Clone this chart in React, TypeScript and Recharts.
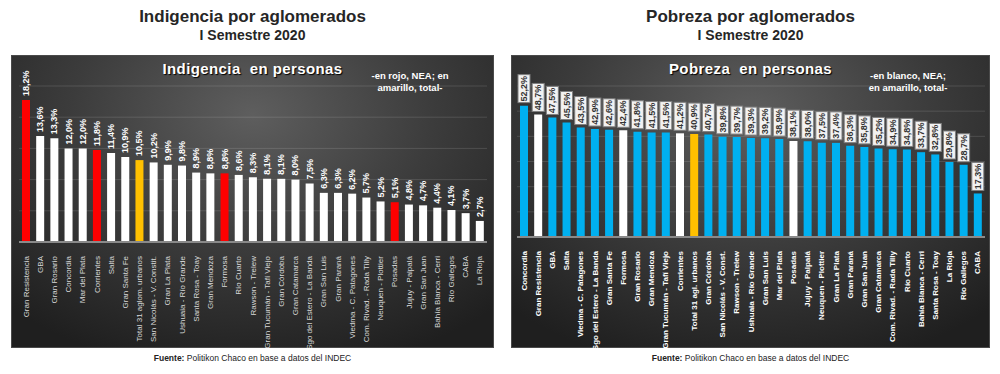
import { BarChart, Bar, XAxis, YAxis, CartesianGrid, Cell, LabelList } from "recharts";

const FONT = "'Liberation Sans', Arial, sans-serif";

// Indigencia
const indCities = [
    "Gran Resistencia", "GBA", "Gran Rosario", "Concordia", "Mar del Plata", "Corrientes", "Salta",
    "Gran Santa Fe", "Total 31 aglom. urbanos", "San Nicolás - V. Constit.", "Gran La Plata",
    "Ushuaia - Río Grande", "Santa Rosa - Toay", "Gran Mendoza", "Formosa", "Río Cuarto",
    "Rawson - Trelew", "Gran Tucumán - Tafí Viejo", "Gran Córdoba", "Gran Catamarca",
    "Sgo del Estero - La Banda", "Gran San Luis", "Gran Paraná", "Viedma - C. Patagones",
    "Com. Rivad. - Rada Tilly", "Neuquen - Plottier", "Posadas", "Jujuy - Palpalá", "Gran San Juan",
    "Bahía Blanca - Cerri", "Río Gallegos", "CABA", "La Rioja",
];
const indValues = [
    18.2, 13.6, 13.3, 12.0, 12.0, 11.8, 11.4, 10.9, 10.5, 10.2, 9.9, 9.8, 8.9, 8.8, 8.8, 8.6, 8.3,
    8.1, 8.1, 8.0, 7.5, 6.3, 6.3, 6.2, 5.7, 5.2, 5.1, 4.8, 4.7, 4.4, 4.1, 3.7, 2.7,
];
const indNea = ["Gran Resistencia", "Corrientes", "Formosa", "Posadas"];
const indTotal = "Total 31 aglom. urbanos";
const indTicks = [0, 2, 4, 6, 8, 10, 12, 14, 16, 18, 20];

// Pobreza
const pobCities = [
    "Concordia", "Gran Resistencia", "GBA", "Salta", "Viedma - C. Patagones", "Sgo del Estero - La Banda",
    "Gran Santa Fe", "Formosa", "Gran Rosario", "Gran Mendoza", "Gran Tucumán - Tafí Viejo", "Corrientes",
    "Total 31 agl. urbanos", "Gran Córdoba", "San Nicolás - V. Const.", "Rawson - Trelew",
    "Ushuaia - Río Grande", "Gran San Luis", "Mar del Plata", "Posadas", "Jujuy - Palpalá",
    "Neuquen - Plottier", "Gran La Plata", "Gran Paraná", "Gran San Juan", "Gran Catamarca",
    "Com. Rivad. - Rada Tilly", "Río Cuarto", "Bahía Blanca - Cerri", "Santa Rosa - Toay", "La Rioja",
    "Río Gallegos", "CABA",
];
const pobValues = [
    52.2, 48.7, 47.5, 45.5, 43.5, 42.9, 42.6, 42.4, 41.8, 41.5, 41.5, 41.2, 40.9, 40.7, 39.8, 39.7,
    39.3, 39.2, 38.9, 38.1, 38.0, 37.5, 37.4, 36.3, 35.8, 35.2, 34.9, 34.8, 33.7, 32.8, 29.8, 28.7, 17.3,
];
const pobNea = ["Gran Resistencia", "Formosa", "Corrientes", "Posadas"];
const pobTotal = "Total 31 agl. urbanos";
const pobTicks = [0, 10, 20, 30, 40, 50, 60];

const fmt = (v: number) => v.toFixed(1).replace(".", ",") + "%";

const panelBg = "radial-gradient(ellipse 75% 90% at 50% 20%, #5e5e5e 0%, #3c3c3c 50%, #1f1f1f 100%)";

function IndLabel(props: any) {
    const { x, y, width, value } = props;
    const cx = x + width / 2;
    const cy = y - 4;
    return (
        <text x={cx} y={cy} transform={`rotate(-90 ${cx} ${cy})`} textAnchor="start" dominantBaseline="central"
            fill="#fff" fontSize={9} fontWeight="bold" fontFamily={FONT}>
            {fmt(value)}
        </text>
    );
}

function PobLabel(props: any) {
    const { x, y, width, value } = props;
    const cx = x + width / 2;
    const bottom = y - 3;
    const h = 28;
    return (
        <g>
            <rect x={cx - 6} y={bottom - h} width={12} height={h} fill="#f2f2f2" stroke="#7f7f7f" strokeWidth={1} />
            <text x={cx} y={bottom - h / 2} transform={`rotate(-90 ${cx} ${bottom - h / 2})`} textAnchor="middle"
                dominantBaseline="central" fill="#333" fontSize={9} fontWeight="bold" fontFamily={FONT}>
                {fmt(value)}
            </text>
        </g>
    );
}

function makeTick(color: string, weight: string) {
    return (props: any) => {
        const { x, y, payload } = props;
        const ty = y + 6;
        return (
            <text x={x} y={ty} transform={`rotate(-90 ${x} ${ty})`} textAnchor="end" dominantBaseline="central"
                fill={color} fontSize={8} fontWeight={weight} fontFamily={FONT}>
                {payload.value}
            </text>
        );
    };
}

interface PanelProps {
    left: number;
    width: number;
    title: string;
    sub: string;
    panelTitle: string;
    note: string[];
    noteX: number;
    data: { name: string; value: number; fill: string }[];
    ticks: number[];
    margin: { top: number; right: number; left: number; bottom: number };
    axisHeight: number;
    boxed: boolean;
}

function Panel(p: PanelProps) {
    const top = 55;
    const height = 293;
    const centre = p.left + p.width / 2;
    return (
        <>
            <div style={{ position: "absolute", left: centre - 200, width: 400, top: 6, textAlign: "center", color: "#262626", fontFamily: FONT, fontWeight: "bold" }}>
                <div style={{ fontSize: 17, lineHeight: "21px" }}>{p.title}</div>
                <div style={{ fontSize: 14, lineHeight: "17px" }}>{p.sub}</div>
            </div>
            <div style={{ position: "absolute", left: p.left, top, width: p.width, height, background: panelBg, boxSizing: "border-box", border: "1px solid #4a4a4a" }} />
            <div style={{ position: "absolute", left: p.left, top: top + 5, width: p.width, textAlign: "center", color: "#fff", fontFamily: FONT, fontWeight: "bold", fontSize: 15, letterSpacing: 0.4, whiteSpace: "pre", textShadow: "1px 1px 1px #000" }}>
                {p.panelTitle}
            </div>
            <div style={{ position: "absolute", left: p.noteX - 70, top: top + 15, width: 140, textAlign: "center", color: "#fff", fontFamily: FONT, fontWeight: "bold", fontSize: 9.5, lineHeight: "12px" }}>
                {p.note.map((n) => <div key={n}>{n}</div>)}
            </div>
            <div style={{ position: "absolute", left: p.left, top }}>
                <BarChart width={p.width} height={height} data={p.data} margin={p.margin} barSize={8}>
                    <CartesianGrid vertical={false} stroke="rgba(255,255,255,0.13)" />
                    <XAxis dataKey="name" interval={0} height={p.axisHeight} tickLine={false}
                        axisLine={{ stroke: "#8a8a8a", strokeWidth: 2 }}
                        tick={p.boxed ? makeTick("#fff", "bold") : makeTick("#d9d9d9", "normal")} />
                    <YAxis hide domain={[p.ticks[0], p.ticks[p.ticks.length - 1]]} ticks={p.ticks} />
                    <Bar dataKey="value" isAnimationActive={false}>
                        {p.data.map((d) => <Cell key={d.name} fill={d.fill} />)}
                        <LabelList dataKey="value" content={p.boxed ? PobLabel : IndLabel} />
                    </Bar>
                </BarChart>
            </div>
            <div style={{ position: "absolute", left: centre - 200, width: 400, top: 353, textAlign: "center", color: "#222", fontFamily: FONT, fontSize: 8.5 }}>
                <b>Fuente:</b> Politikon Chaco en base a datos del INDEC
            </div>
        </>
    );
}

export default function App() {
    const indData = indCities.map((name, i) => ({
        name,
        value: indValues[i],
        fill: name === indTotal ? "#ffc000" : indNea.includes(name) ? "#ff0000" : "#ffffff",
    }));
    const pobData = pobCities.map((name, i) => ({
        name,
        value: pobValues[i],
        fill: name === pobTotal ? "#ffc000" : pobNea.includes(name) ? "#ffffff" : "#00b0f0",
    }));

    return (
        <div style={{ position: "fixed", left: 0, top: 0, width: 1000, height: 374, background: "#fff", overflow: "hidden" }}>
            <Panel left={11} width={483} title="Indigencia por aglomerados" sub="I Semestre 2020"
                panelTitle={"Indigencia  en personas"} note={["-en rojo, NEA; en", "amarillo, total-"]} noteX={410}
                data={indData} ticks={indTicks} margin={{ top: 31, right: 7, left: 8, bottom: 0 }} axisHeight={106} boxed={false} />
            <Panel left={511} width={479} title="Pobreza por aglomerados" sub="I Semestre 2020"
                panelTitle={"Pobreza  en personas"} note={["-en blanco, NEA;", "en amarillo, total-"]} noteX={908}
                data={pobData} ticks={pobTicks} margin={{ top: 31, right: 5, left: 6, bottom: 0 }} axisHeight={111} boxed={true} />
        </div>
    );
}
